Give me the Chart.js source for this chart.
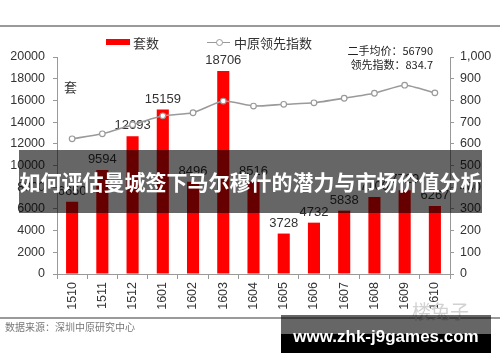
<!DOCTYPE html>
<html>
<head>
<meta charset="utf-8">
<script src="https://cdn.jsdelivr.net/npm/chart.js@4/dist/chart.umd.min.js"></script>
<style>
  body { margin: 0; background: #fff; }
  #wrap { position: relative; width: 500px; height: 362px; overflow: hidden; font-family: "Liberation Sans", "Noto Sans CJK SC", sans-serif; }
  #chart { position: absolute; left: 0; top: 0; }
  .abs { position: absolute; white-space: nowrap; }
  .hline { position: absolute; left: 0; width: 500px; height: 1.5px; background: #9a9a9a; }
</style>
</head>
<body>
<div id="wrap">
  <canvas id="chart" width="500" height="362"></canvas>
  <div class="hline" style="top:25px"></div>
  <div class="hline" style="top:317px"></div>

  <!-- legend -->
  <div class="abs" style="left:106px;top:39px;width:24px;height:6px;background:#ff0000"></div>
  <div class="abs" style="left:133px;top:33px;font-size:13px;color:#333;font-family:'Noto Sans CJK SC'">套数</div>
  <div class="abs" style="left:207px;top:41.5px;width:23px;height:1.5px;background:#999"></div>
  <div class="abs" style="left:216px;top:39px;width:5px;height:5px;border:1px solid #999;border-radius:50%;background:#fff"></div>
  <div class="abs" style="left:234px;top:33px;font-size:13px;color:#333;font-family:'Noto Sans CJK SC'">中原领先指数</div>

  <div class="abs" style="right:67px;top:43px;font-size:11px;color:#222;font-family:'Noto Sans CJK SC';text-align:right;line-height:14px">二手均价：56790<br>领先指数：834.7</div>
  <div class="abs" style="left:64px;top:77px;font-size:13px;color:#333;font-family:'Noto Sans CJK SC'">套</div>

  <div class="abs" style="left:5px;top:319px;font-size:10px;color:#777;font-family:'Noto Sans CJK SC'">数据来源：深圳中原研究中心</div>
  <div class="abs" style="left:412px;top:297px;font-size:19px;color:#d2d2d2;font-family:'Noto Sans CJK SC'">楼兔子</div>

  <!-- overlays -->
  <div class="abs" style="left:19px;top:150px;width:463px;height:63px;background:rgba(0,0,0,0.6)"></div>
  <div class="abs" style="left:19px;top:168px;width:463px;text-align:center;font-size:21px;font-weight:bold;color:#fff;font-family:'Noto Sans CJK SC';line-height:26px">如何评估曼城签下马尔穆什的潜力与市场价值分析</div>
  <div class="abs" style="left:281px;top:315px;width:210px;height:19px;background:rgba(0,0,0,0.6)"></div>
  <div class="abs" style="left:281px;top:334px;width:210px;height:19px;background:#000"></div>
  <div class="abs" style="left:281px;top:325px;width:210px;text-align:center;font-size:17px;font-weight:bold;color:#fff;font-family:'Liberation Sans';line-height:24px">www.zhk-j9games.com</div>
</div>
<script>
const months = ['1510', '1511', '1512', '1601', '1602', '1603', '1604', '1605', '1606', '1607', '1608', '1609', '1610'];
const units = [6650, 9594, 12693, 15159, 8496, 18706, 8516, 3728, 4732, 5838, 7100, 7729, 6267];
const indexValues = [623, 646, 688, 729, 743, 797, 774, 782, 789, 810, 833, 870, 834.7];

const tickFont = { family: 'Liberation Sans', size: 12.5 };

const barLabels = {
    id: 'barLabels',
    afterDatasetDraw(chart, args) {
        if (args.index !== 0) return;
        const ctx = chart.ctx;
        ctx.save();
        ctx.fillStyle = '#333';
        ctx.font = '13px "Liberation Sans"';
        ctx.textAlign = 'center';
        ctx.textBaseline = 'bottom';
        args.meta.data.forEach((bar, i) => {
            ctx.fillText(units[i], bar.x, bar.y - 4);
        });
        ctx.restore();
    }
};

new Chart(document.getElementById('chart'), {
    type: 'bar',
    data: {
        labels: months,
        datasets: [{
            type: 'bar',
            label: '套数',
            data: units,
            backgroundColor: '#ff0000',
            barPercentage: 0.4,
            categoryPercentage: 1,
            yAxisID: 'y',
            order: 1
        }, {
            type: 'line',
            label: '中原领先指数',
            data: indexValues,
            borderColor: '#9a9a9a',
            borderWidth: 1.6,
            pointRadius: 2.8,
            pointBackgroundColor: '#fff',
            pointBorderColor: '#9a9a9a',
            pointBorderWidth: 1.2,
            tension: 0.2,
            yAxisID: 'y1',
            order: 0
        }]
    },
    options: {
        responsive: false,
        animation: false,
        layout: { padding: { top: 57, bottom: 44, left: 0, right: 0 } },
        plugins: { legend: { display: false }, tooltip: { enabled: false } },
        scales: {
            x: {
                grid: { drawOnChartArea: false, tickLength: 5, color: '#999' },
                border: { color: '#999' },
                ticks: { color: '#333', font: tickFont, minRotation: 90, maxRotation: 90, padding: 3 },
                afterFit(scale) { scale.height = 44; }
            },
            y: {
                position: 'left',
                min: 0,
                max: 20000,
                grid: { drawOnChartArea: false, tickLength: 4, color: '#999' },
                border: { color: '#999' },
                ticks: { stepSize: 2000, color: '#333', font: tickFont, padding: 8, callback: v => String(v) },
                afterFit(scale) { scale.width = 57; }
            },
            y1: {
                position: 'right',
                min: 0,
                max: 1000,
                grid: { drawOnChartArea: false, tickLength: 4, color: '#999' },
                border: { color: '#999' },
                ticks: { stepSize: 100, color: '#333', font: tickFont, padding: 6 },
                afterFit(scale) { scale.width = 50; }
            }
        }
    },
    plugins: [barLabels]
});
</script>
</body>
</html>
